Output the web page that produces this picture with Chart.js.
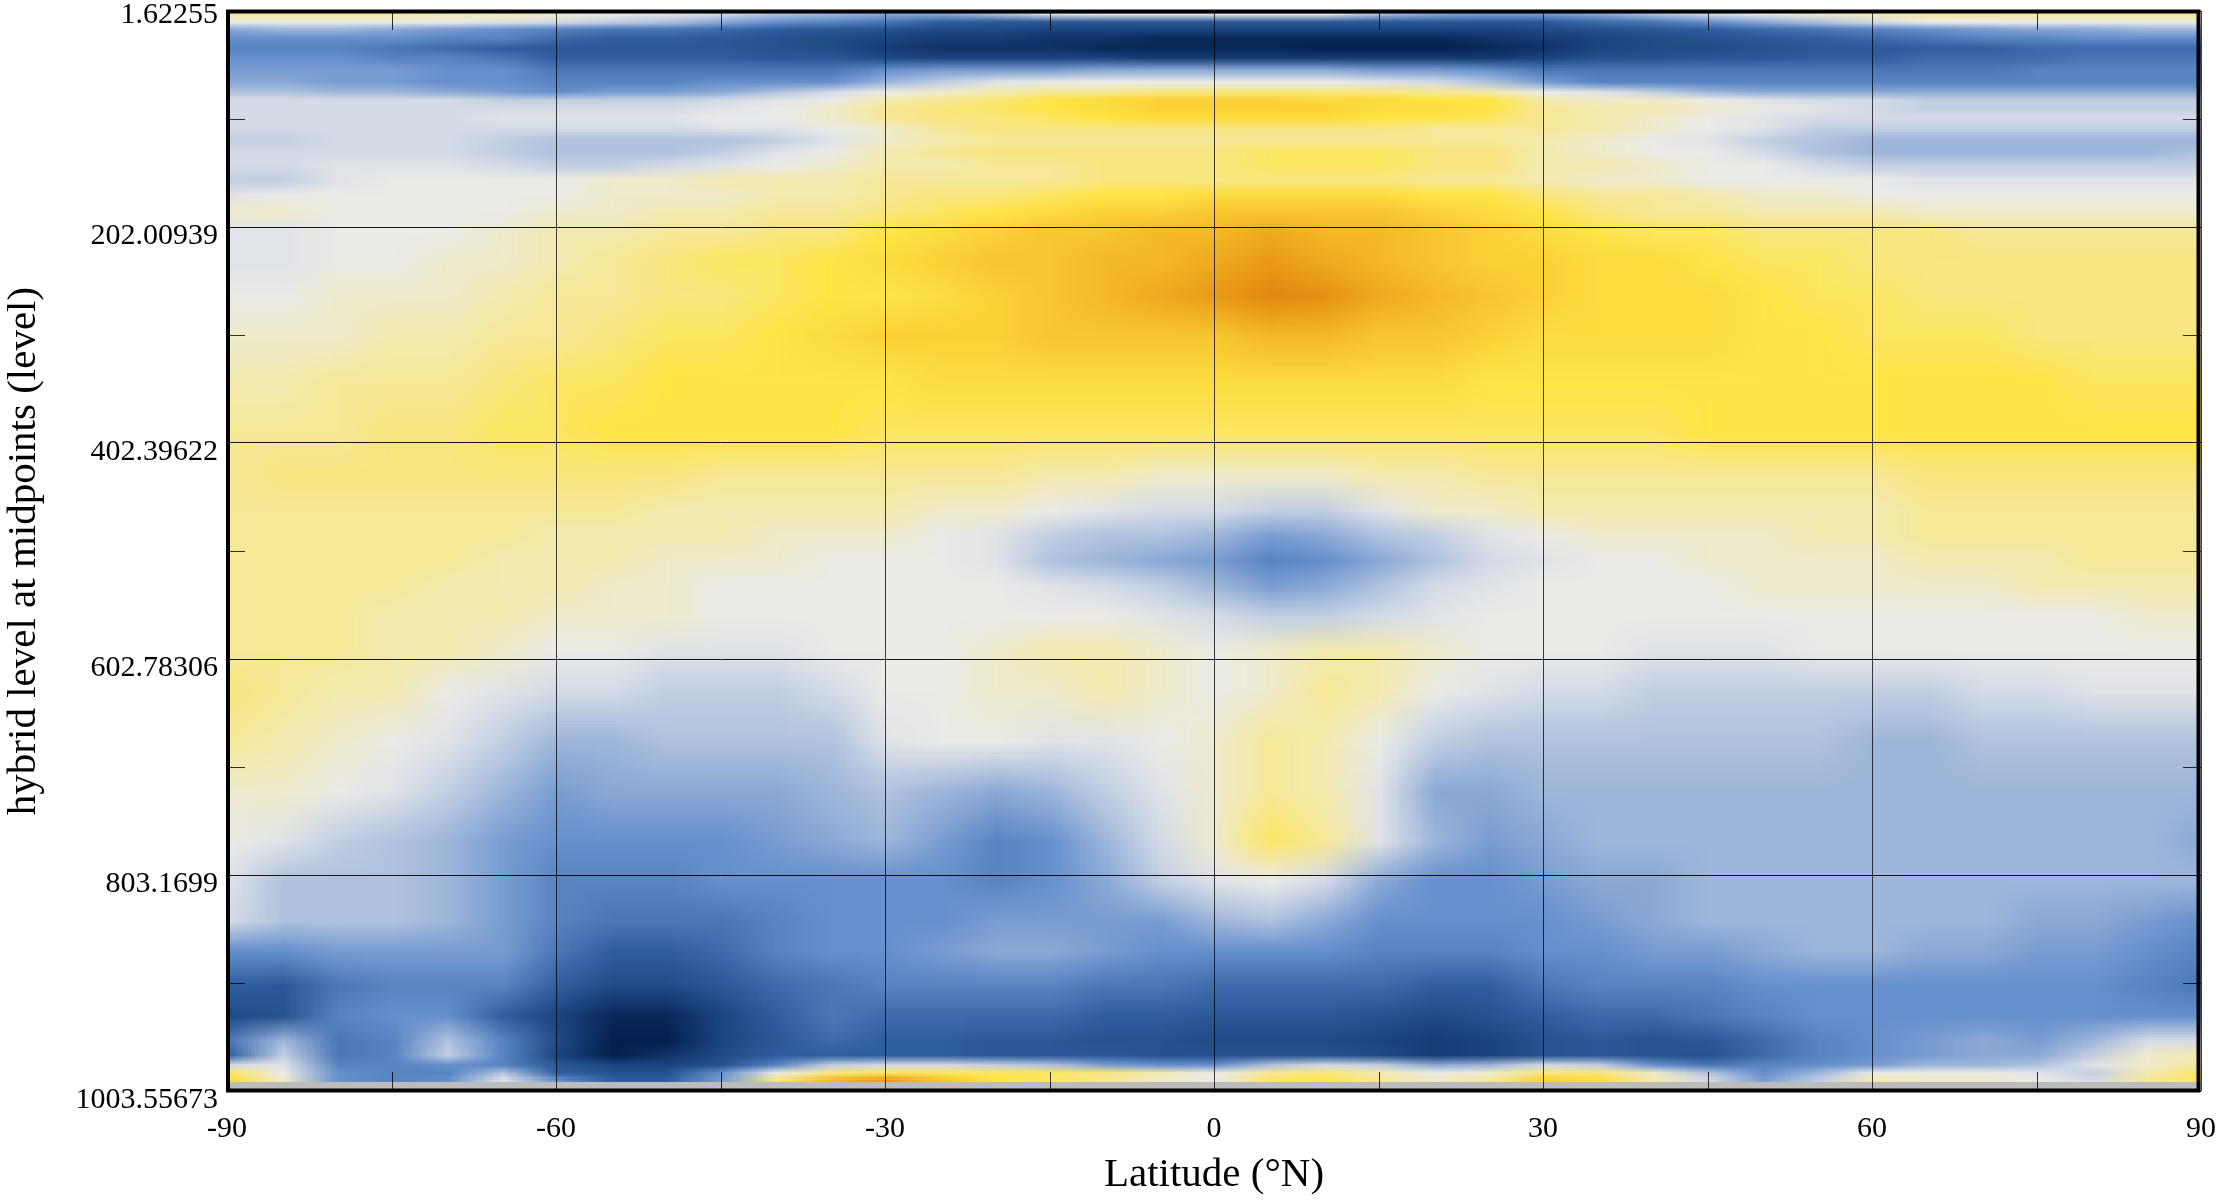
<!DOCTYPE html>
<html>
<head>
<meta charset="utf-8">
<title>Latitude / level section</title>
<script src="https://cdn.jsdelivr.net/npm/chart.js@4"></script>
<style>
    html, body { margin: 0; padding: 0; background: #fff; }
    canvas { display: block; }
</style>
</head>
<body>
<canvas id="chart" width="2222" height="1200"></canvas>
<script>
const latitudes = [-90, -85, -80, -75, -70, -65, -60, -55, -50, -45, -40, -35, -30, -25, -20, -15, -10, -5, 0,
    5, 10, 15, 20, 25, 30, 35, 40, 45, 50, 55, 60, 65, 70, 75, 80, 85, 90];

const levels = [4.4, 11.8, 18.3, 26.7, 35.9, 45.2, 56.4, 67.5, 76.8, 84.2, 91.6, 100.9, 110.2, 121.3, 132.4, 144.5,
    158.4, 172.3, 188.1, 206.6, 232.6, 265.1, 302.2, 344, 390.3, 432.1, 464.5, 487.8, 511, 534.1, 562, 594.4,
    631.5, 677.9, 724.3, 770.7, 807.8, 844.9, 872.7, 905.2, 933, 956.2, 970.1, 979.4, 986.8, 992.4];

// one row per level (no colour bar in the original, so arbitrary units)
const field = [
    [3,3,3,3,2,2,1, 0,-1,-2,-4,-5,-6, -6,-4,-1,0,0,0, 0,0,-4,-6,-7,-7, -6,-4,-2,0,1,2, 3,3,3,3,3,3],
    [0,0,0,0,0,-1,-2, -3,-4,-6,-8,-9,-10, -12,-13,-13,-13,-13,-13, -13,-13,-13,-13,-13,-13, -11,-10,-8,-6,-4,-2, 0,0,0,0,0,0],
    [-6,-5,-5,-6,-7,-8,-9, -10,-10,-11,-12,-13,-14, -15,-15,-16,-16,-16,-16, -16,-16,-16,-16,-16,-15, -14,-13,-12,-11,-10,-9, -8,-7,-6,-6,-5,-5],
    [-8,-8,-8,-8,-9,-9,-11, -12,-12,-13,-14,-15,-16, -17,-17,-18,-18,-19,-19, -19,-19,-19,-19,-18,-17, -16,-15,-14,-13,-12,-11, -10,-9,-9,-8,-8,-8],
    [-9,-9,-9,-10,-11,-12,-13, -13,-13,-13,-14,-15,-17, -18,-18,-18,-19,-19,-19, -19,-20,-20,-20,-19,-18, -16,-15,-15,-14,-13,-13, -12,-12,-11,-11,-11,-11],
    [-8,-8,-8,-9,-9,-10,-12, -12,-12,-12,-13,-13,-15, -16,-16,-16,-16,-17,-17, -17,-17,-17,-17,-17,-16, -14,-14,-13,-13,-12,-12, -11,-11,-11,-10,-10,-10],
    [-7,-7,-7,-7,-8,-8,-10, -10,-10,-10,-10,-10,-8, -7,-7,-7,-6,-6,-6, -6,-6,-7,-7,-8,-10, -10,-10,-10,-10,-10,-10, -10,-10,-9,-9,-9,-9],
    [-6,-6,-7,-7,-8,-8,-9, -9,-9,-8,-8,-8,-5, -3,-1,0,0,0,0, 0,0,-1,-2,-4,-7, -9,-9,-9,-9,-9,-9, -9,-9,-9,-9,-9,-9],
    [-4,-4,-5,-5,-6,-7,-8, -7,-7,-6,-4,-2,0, 1,2,3,3,4,4, 4,4,4,3,2,0, -1,-3,-5,-6,-6,-6, -6,-6,-6,-6,-6,-6],
    [-2,-2,-2,-2,-2,-3,-3, -3,-3,-2,-1,0,2, 3,4,6,7,8,8, 8,7,7,6,6,2, 1,1,0,-1,-2,-2, -3,-3,-3,-3,-3,-3],
    [-2,-2,-2,-2,-2,-2,-2, -2,-2,-1,0,1,3, 4,5,6,7,8,8, 8,8,7,7,6,3, 2,2,1,0,-1,-2, -3,-3,-3,-3,-3,-3],
    [-2,-2,-2,-2,-2,-1,-1, -1,-1,0,0,1,3, 4,4,5,6,7,7, 7,7,6,6,5,3, 2,1,0,-1,-2,-2, -2,-2,-2,-2,-2,-2],
    [-2,-2,-2,-2,-2,-2,-2, -2,-2,-1,-1,0,1, 3,4,4,4,4,4, 4,4,4,3,3,3, 2,1,0,-1,-3,-3, -3,-3,-3,-3,-3,-3],
    [-3,-3,-2,-2,-2,-3,-4, -4,-4,-4,-3,-1,1, 2,3,3,3,3,3, 3,3,3,3,3,2, 1,0,-1,-3,-4,-5, -5,-5,-5,-5,-5,-5],
    [-2,-2,-2,-2,-2,-3,-4, -4,-4,-3,-1,0,2, 3,4,4,4,4,4, 5,5,5,4,4,2, 1,0,0,-2,-4,-5, -5,-5,-5,-5,-5,-4],
    [-2,-2,-1,-1,-1,-2,-3, -3,-2,-1,0,1,2, 2,3,3,4,4,4, 5,5,5,4,4,2, 2,1,0,0,-2,-3, -3,-3,-3,-3,-3,-3],
    [-3,-3,-1,0,0,0,0, 1,1,2,2,2,3, 3,3,3,4,4,4, 4,4,4,3,3,2, 1,1,0,0,0,0, -1,-1,-1,-1,-1,-1],
    [-1,0,0,0,0,0,0, 1,1,1,2,2,3, 4,4,5,6,6,7, 7,7,7,6,6,4, 3,3,2,1,1,0, 0,0,0,0,0,0],
    [1,1,0,0,0,0,1, 1,2,2,3,3,4, 5,6,7,8,8,9, 9,9,9,8,7,6, 4,3,3,2,2,2, 1,1,1,1,1,1],
    [-1,-1,0,0,0,1,2, 2,3,3,4,4,6, 7,8,9,9,10,10, 11,10,10,9,8,7, 6,5,5,4,4,4, 4,3,3,3,3,3],
    [-1,-1,0,0,1,1,2, 3,4,5,5,6,7, 8,9,9,10,10,11, 12,11,10,9,8,8, 7,7,6,5,5,4, 4,4,4,4,4,4],
    [0,0,1,1,1,2,3, 3,4,4,5,6,6, 7,8,9,10,11,12, 14,13,11,10,9,8, 7,7,7,6,5,5, 4,4,4,4,4,4],
    [1,1,1,2,2,3,3, 4,5,5,6,7,8, 8,8,9,9,9,9, 10,10,9,9,8,7, 7,7,7,6,6,5, 5,5,4,4,4,4],
    [2,2,3,3,3,4,5, 5,6,6,6,6,6, 7,7,7,7,7,7, 7,7,7,7,6,6, 6,6,6,6,6,6, 6,6,6,5,5,5],
    [3,3,3,4,4,5,5, 6,6,6,6,6,5, 5,5,5,5,5,5, 5,5,5,5,5,5, 5,5,6,6,6,6, 6,6,6,6,6,6],
    [3,4,4,4,4,4,4, 4,4,3,3,3,3, 3,3,2,2,1,1, 1,1,2,2,3,3, 3,3,3,3,3,3, 4,4,4,4,4,4],
    [3,3,3,3,3,3,3, 3,2,2,2,2,2, 1,1,0,-1,-2,-2, -3,-3,-1,1,1,2, 2,2,2,2,2,2, 3,3,3,3,3,3],
    [3,3,3,3,3,3,2, 2,2,2,1,1,1, 0,-1,-3,-4,-4,-5, -7,-6,-4,-3,-1,0, 1,1,1,1,2,2, 3,3,3,3,3,3],
    [3,3,3,3,3,2,2, 2,1,1,1,0,0, 0,-1,-4,-5,-6,-7, -9,-8,-6,-4,-2,-1, 0,0,1,1,1,1, 2,2,2,3,3,3],
    [3,3,3,3,2,2,2, 1,1,0,0,0,0, 0,0,-1,-2,-3,-5, -7,-6,-4,-2,-1,0, 0,0,0,1,1,1, 1,1,2,2,2,2],
    [3,3,3,2,2,2,1, 1,1,0,0,0,0, 0,0,0,0,-1,-2, -3,-3,-2,-1,0,0, 0,0,0,0,0,0, 0,0,0,0,1,1],
    [3,3,3,2,2,1,0, 0,-1,-1,-1,0,0, 0,1,2,2,1,0, 1,2,2,1,0,0, 0,-1,-1,-1,0,0, 0,0,0,0,0,0],
    [4,3,2,2,0,-1,-2, -2,-3,-3,-3,-2,0, 0,1,1,2,1,0, 1,3,2,0,-1,-2, -2,-3,-3,-3,-3,-3, -3,-2,-2,-1,-1,-1],
    [3,2,1,0,-1,-3,-5, -5,-4,-4,-4,-4,-1, 0,0,-1,-1,0,1, 3,2,0,-3,-4,-4, -4,-4,-4,-4,-4,-5, -5,-4,-4,-4,-4,-4],
    [1,1,0,-1,-3,-5,-7, -6,-6,-6,-6,-5,-4, -5,-6,-5,-3,-1,1, 3,2,-1,-6,-6,-5, -5,-5,-5,-5,-5,-5, -5,-5,-5,-5,-5,-5],
    [0,-1,-3,-4,-5,-7,-8, -8,-8,-8,-7,-6,-5, -7,-9,-8,-5,-2,1, 5,3,-1,-5,-7,-6, -5,-5,-5,-5,-5,-5, -5,-5,-5,-5,-5,-6],
    [-1,-4,-4,-4,-5,-7,-9, -9,-9,-8,-8,-8,-8, -8,-9,-8,-6,-3,-1, 0,-2,-6,-8,-8,-7, -6,-6,-5,-5,-5,-5, -5,-5,-5,-5,-5,-5],
    [-2,-4,-4,-4,-5,-7,-9, -10,-10,-10,-9,-8,-8, -8,-7,-7,-7,-7,-5, -4,-6,-8,-8,-8,-8, -7,-6,-5,-5,-5,-5, -5,-5,-6,-6,-7,-8],
    [-8,-8,-7,-7,-7,-7,-10, -12,-12,-11,-9,-8,-8, -7,-6,-6,-7,-8,-8, -8,-8,-9,-9,-9,-8, -8,-7,-7,-6,-5,-5, -6,-6,-7,-7,-8,-9],
    [-12,-13,-10,-9,-9,-9,-12, -15,-15,-13,-11,-10,-9, -9,-9,-9,-10,-10,-11, -11,-11,-11,-12,-12,-10, -9,-9,-9,-8,-8,-8, -8,-8,-8,-8,-9,-10],
    [-15,-14,-9,-8,-8,-12,-16, -19,-19,-16,-12,-10,-11, -11,-11,-11,-12,-12,-13, -13,-13,-14,-15,-14,-12, -11,-11,-10,-9,-8,-8, -8,-8,-8,-8,-8,-8],
    [-10,-5,-10,-9,-4,-9,-15, -20,-20,-16,-13,-11,-12, -12,-13,-13,-14,-14,-15, -15,-15,-16,-17,-16,-14, -13,-14,-13,-11,-9,-8, -7,-6,-7,-5,-2,-2],
    [-12,-3,-10,-9,-3,-9,-16, -20,-18,-15,-12,-12,-12, -12,-13,-13,-13,-14,-14, -14,-14,-15,-17,-16,-14, -13,-14,-14,-11,-9,-8, -7,-6,-6,-3,1,2],
    [-2,-1,-9,-9,-8,-9,-13, -16,-16,-14,-9,-3,-2, -2,-3,-4,-7,-8,-8, -4,-2,-3,-6,-5,-2, -3,-8,-10,-9,-8,-7, -5,-5,-4,-1,1,3],
    [5,0,-8,-9,-9,-4,-12, -14,-14,-8,0,4,5, 5,5,5,4,2,0, 3,4,2,0,1,4, 4,1,-4,-8,-5,0, 0,0,-1,-3,2,5],
    [7,1,-8,-9,-8,-1,-8, -12,-12,-7,4,10,12, 9,6,5,3,1,0, 5,6,3,1,3,8, 7,2,-2,-7,-3,2, 1,1,0,-2,3,5]
];

const xTicks = [-90, -60, -30, 0, 30, 60, 90];
const xMinorTicks = [-75, -45, -15, 15, 45, 75];
const yTicks = [1.62255, 202.00939, 402.39622, 602.78306, 803.1699, 1003.55673];
const yTickLabels = ['1.62255', '202.00939', '402.39622', '602.78306', '803.1699', '1003.55673'];
const yMinorTicks = [101.8, 302.2, 502.6, 703, 903.4];
const lastDataLevel = 995.2;

// colour map: value -> colour, blue through grey to orange
const colourStops = [
    [-20, [3, 32, 79]], [-16, [28, 69, 127]], [-12, [47, 94, 160]], [-8, [102, 144, 205]], [-4, [176, 194, 222]],
    [-2, [212, 219, 230]], [0, [235, 235, 232]], [2, [243, 234, 176]], [4, [248, 230, 127]], [6, [255, 229, 69]],
    [8, [251, 210, 54]], [10, [244, 185, 38]], [12, [234, 154, 24]], [14, [224, 136, 15]]
];

function colourFor(v) {
    for (let i = 1; i < colourStops.length; i++) {
        const [v0, c0] = colourStops[i - 1];
        const [v1, c1] = colourStops[i];
        if (v <= v1) {
            const t = Math.max(0, (v - v0) / (v1 - v0));
            return c0.map((c, k) => Math.round(c + (c1[k] - c) * t));
        }
    }
    return colourStops[colourStops.length - 1][1];
}

const cells = [];
levels.forEach((level, r) => {
    latitudes.forEach((lat, c) => {
        cells.push({x: lat, y: level, v: field[r][c]});
    });
});

// Chart.js keeps room for half a tick label above the plot, the original does not
const fixPlotArea = {
    id: 'fixPlotArea',
    afterLayout(chart) {
        const {chartArea, scales} = chart;
        Object.assign(chartArea, {left: 227, right: 2201, top: 11, bottom: 1091, width: 1974, height: 1080});
        Object.assign(scales.y, {top: 11, bottom: 1091, height: 1080});
        Object.assign(scales.x, {left: 227, right: 2201, width: 1974, top: 1091, bottom: 1200});
        scales.y.configure();
        scales.x.configure();
    }
};

// The cells come out blocky, so paint them again the way the original image viewer did:
// one pixel per cell, stretched with bilinear smoothing between the scale positions of the rows.
const smoothCells = {
    id: 'smoothCells',
    afterDatasetsDraw(chart) {
        const {ctx, chartArea, scales} = chart;
        const off = document.createElement('canvas');
        off.width = latitudes.length;
        off.height = levels.length;
        const offCtx = off.getContext('2d');
        const img = offCtx.createImageData(off.width, off.height);
        cells.forEach((cell, i) => {
            const [r, g, b] = colourFor(cell.v);
            img.data.set([r, g, b, 255], i * 4);
        });
        offCtx.putImageData(img, 0, 0);

        const x0 = Math.round(scales.x.getPixelForValue(latitudes[0]));
        const x1 = Math.round(scales.x.getPixelForValue(latitudes[latitudes.length - 1]));
        const rowY = levels.map(l => Math.round(scales.y.getPixelForValue(l)));
        const dataBottom = Math.round(scales.y.getPixelForValue(lastDataLevel));
        const srcW = off.width - 1;

        ctx.save();
        ctx.imageSmoothingEnabled = true;
        ctx.imageSmoothingQuality = 'low';
        ctx.fillStyle = '#bcbcbc';
        ctx.fillRect(chartArea.left, dataBottom, chartArea.width, chartArea.bottom - dataBottom);
        ctx.drawImage(off, 0.5, 0, srcW, 1, x0, chartArea.top, x1 - x0, rowY[0] - chartArea.top);
        for (let i = 0; i < levels.length - 1; i++) {
            ctx.drawImage(off, 0.5, i + 0.5, srcW, 1, x0, rowY[i], x1 - x0, rowY[i + 1] - rowY[i]);
        }
        ctx.drawImage(off, 0.5, levels.length - 1, srcW, 1, x0, rowY[levels.length - 1], x1 - x0, dataBottom - rowY[levels.length - 1]);
        ctx.restore();
    }
};

const frameAndMinorTicks = {
    id: 'frameAndMinorTicks',
    beforeDraw(chart) {
        // the top label sits closer to its tick than the others
        chart.scales.y.getLabelItems()[0].options.translation[1] -= 5;
    },
    afterDraw(chart) {
        const {ctx, chartArea, scales} = chart;
        const {left, right, top, bottom} = chartArea;
        ctx.save();
        ctx.strokeStyle = 'rgba(0,0,0,0.8)';
        ctx.lineWidth = 1;
        ctx.beginPath();
        xMinorTicks.forEach(v => {
            const x = Math.round(scales.x.getPixelForValue(v)) + 0.5;
            ctx.moveTo(x, top);
            ctx.lineTo(x, top + 19);
            ctx.moveTo(x, bottom);
            ctx.lineTo(x, bottom - 19);
        });
        yMinorTicks.forEach(v => {
            const y = Math.round(scales.y.getPixelForValue(v)) + 0.5;
            ctx.moveTo(left, y);
            ctx.lineTo(left + 18, y);
            ctx.moveTo(right, y);
            ctx.lineTo(right - 18, y);
        });
        ctx.stroke();
        ctx.strokeStyle = '#000';
        ctx.lineWidth = 4;
        ctx.strokeRect(228, 11.5, 1970.5, 1079);
        ctx.restore();
    }
};

const tickFont = {family: "'Liberation Serif', serif", size: 30};
const titleFont = {family: "'Liberation Serif', serif", size: 41};

new Chart(document.getElementById('chart'), {
    type: 'scatter',
    data: {
        datasets: [{
            data: cells,
            pointStyle: 'rect',
            pointRadius: 20,
            pointBorderWidth: 0,
            pointBackgroundColor: c => {
                const [r, g, b] = colourFor(c.raw.v);
                return `rgb(${r},${g},${b})`;
            }
        }]
    },
    options: {
        responsive: false,
        animation: false,
        devicePixelRatio: 1,
        events: [],
        layout: {padding: {top: 11, right: 21, left: 0, bottom: 0}},
        plugins: {legend: {display: false}, tooltip: {enabled: false}},
        scales: {
            x: {
                type: 'linear',
                min: -90,
                max: 90,
                afterBuildTicks: scale => {
                    scale.ticks = xTicks.map(v => ({value: v}));
                },
                afterFit: scale => {
                    scale.height = 109;
                },
                grid: {color: 'rgba(0,0,0,0.75)', lineWidth: 1, drawTicks: false, z: 1},
                border: {display: false},
                ticks: {color: '#000', font: tickFont, padding: 20, maxRotation: 0, autoSkip: false},
                title: {display: true, text: 'Latitude (°N)', color: '#000', font: titleFont, padding: {top: 0, bottom: 0}}
            },
            y: {
                type: 'linear',
                reverse: true,
                min: yTicks[0],
                max: yTicks[yTicks.length - 1],
                afterBuildTicks: scale => {
                    scale.ticks = yTicks.map(v => ({value: v}));
                },
                afterFit: scale => {
                    scale.width = 227;
                },
                grid: {color: 'rgba(0,0,0,0.9)', lineWidth: 1, drawTicks: false, z: 1},
                border: {display: false},
                ticks: {
                    color: '#000',
                    font: tickFont,
                    padding: 9,
                    labelOffset: 9,
                    autoSkip: false,
                    callback: value => yTickLabels[yTicks.indexOf(value)]
                },
                title: {display: true, text: 'hybrid level at midpoints (level)', color: '#000', font: titleFont, padding: {top: 0, bottom: 0}}
            }
        }
    },
    plugins: [fixPlotArea, smoothCells, frameAndMinorTicks]
});
</script>
</body>
</html>
